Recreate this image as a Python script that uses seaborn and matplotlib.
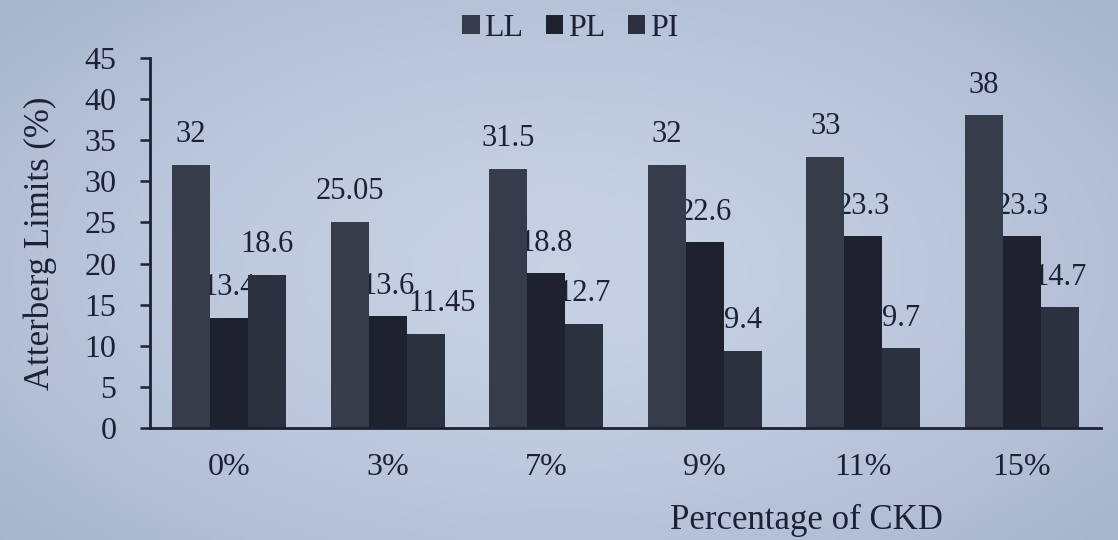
import matplotlib
matplotlib.use("Agg")
import matplotlib.pyplot as plt
import seaborn as sns
import numpy as np
import pandas as pd
from matplotlib.patches import Patch

# Atterberg limits for soil stabilised with cement kiln dust (CKD)
ckd_levels = ["0%", "3%", "7%", "9%", "11%", "15%"]
liquid_limit = [32, 25.05, 31.5, 32, 33, 38]
plastic_limit = [13.4, 13.6, 18.8, 22.6, 23.3, 23.3]
plasticity_index = [18.6, 11.45, 12.7, 9.4, 9.7, 14.7]
series_names = ["LL", "PL", "PI"]
y_ticks = [0, 5, 10, 15, 20, 25, 30, 35, 40, 45]

df = pd.DataFrame({
    "CKD": ckd_levels * 3,
    "Limit": sum([[s] * len(ckd_levels) for s in series_names], []),
    "Value": liquid_limit + plastic_limit + plasticity_index,
})

bg = "#b7c3d8"
ink = "#1c2233"
bar_colors = ["#363c4a", "#1d222e", "#2b313e"]

sns.set_theme(style="white")
plt.rcParams["font.family"] = ["Liberation Serif", "DejaVu Serif"]

fig = plt.figure(figsize=(11.18, 5.4), dpi=100, facecolor=bg)

# paper tone: lighter in the middle, falling off towards the edges
bg_ax = fig.add_axes([0, 0, 1, 1], zorder=-10)
gx, gy = np.meshgrid(np.linspace(-1, 1, 220), np.linspace(-1, 1, 110))
r = np.clip(np.sqrt((gx * 0.9) ** 2 + (gy * 0.8) ** 2), 0, 1.4)
light = np.array([0.78, 0.82, 0.89])
dark = np.array([0.62, 0.68, 0.78])
t = (r / 1.4) ** 1.6
img = light[None, None, :] * (1 - t[..., None]) + dark[None, None, :] * t[..., None]
bg_ax.imshow(img, aspect="auto", extent=[0, 1, 0, 1], interpolation="bicubic")
bg_ax.axis("off")

ax = fig.add_axes([0.134, 0.207, 0.851, 0.686])
ax.set_facecolor("none")

sns.barplot(data=df, x="CKD", y="Value", hue="Limit", order=ckd_levels,
            hue_order=series_names, palette=bar_colors, width=0.72,
            saturation=1, edgecolor="none", ax=ax, zorder=2)

# value labels sit behind the bars, so a neighbouring bar may cover part of one;
# the crowded 3% PI label is pushed a little to the right
label_shift = {("3%", "PI"): 12}
for name, container in zip(series_names, ax.containers):
    for cat, rect in zip(ckd_levels, container):
        h = rect.get_height()
        ax.annotate(f"{h:g}", (rect.get_x() + rect.get_width() / 2, h + 1.9),
                    xytext=(label_shift.get((cat, name), 0), 0),
                    textcoords="offset points", ha="center", va="bottom",
                    fontsize=22, color=ink, zorder=1)

ax.set_ylim(0, 45)
ax.set_yticks(y_ticks)
ax.tick_params(axis="y", direction="out", length=7, width=1.8, color=ink,
               labelsize=23, labelcolor=ink, pad=17, left=True)
ax.tick_params(axis="x", length=0, labelsize=23, labelcolor=ink, pad=18)

for side in ["top", "right"]:
    ax.spines[side].set_visible(False)
for side in ["left", "bottom"]:
    ax.spines[side].set_color(ink)
    ax.spines[side].set_linewidth(2.0)

ax.set_ylabel("Atterberg Limits (%)", fontsize=25, color=ink)
ax.yaxis.set_label_coords(-0.098, 0.5)
ax.set_xlabel("Percentage of CKD", fontsize=25, color=ink)
ax.xaxis.set_label_coords(0.69, -0.205)

handles = [Patch(facecolor=c, edgecolor="none") for c in bar_colors]
ax.legend(handles, series_names, loc="center", bbox_to_anchor=(0.51, 0.948),
          bbox_transform=fig.transFigure, ncol=3, frameon=False, fontsize=23,
          handlelength=0.55, handleheight=0.55, handletextpad=0.15,
          columnspacing=0.7, labelcolor=ink)

fig.savefig("out.png", dpi=100, facecolor=bg)
